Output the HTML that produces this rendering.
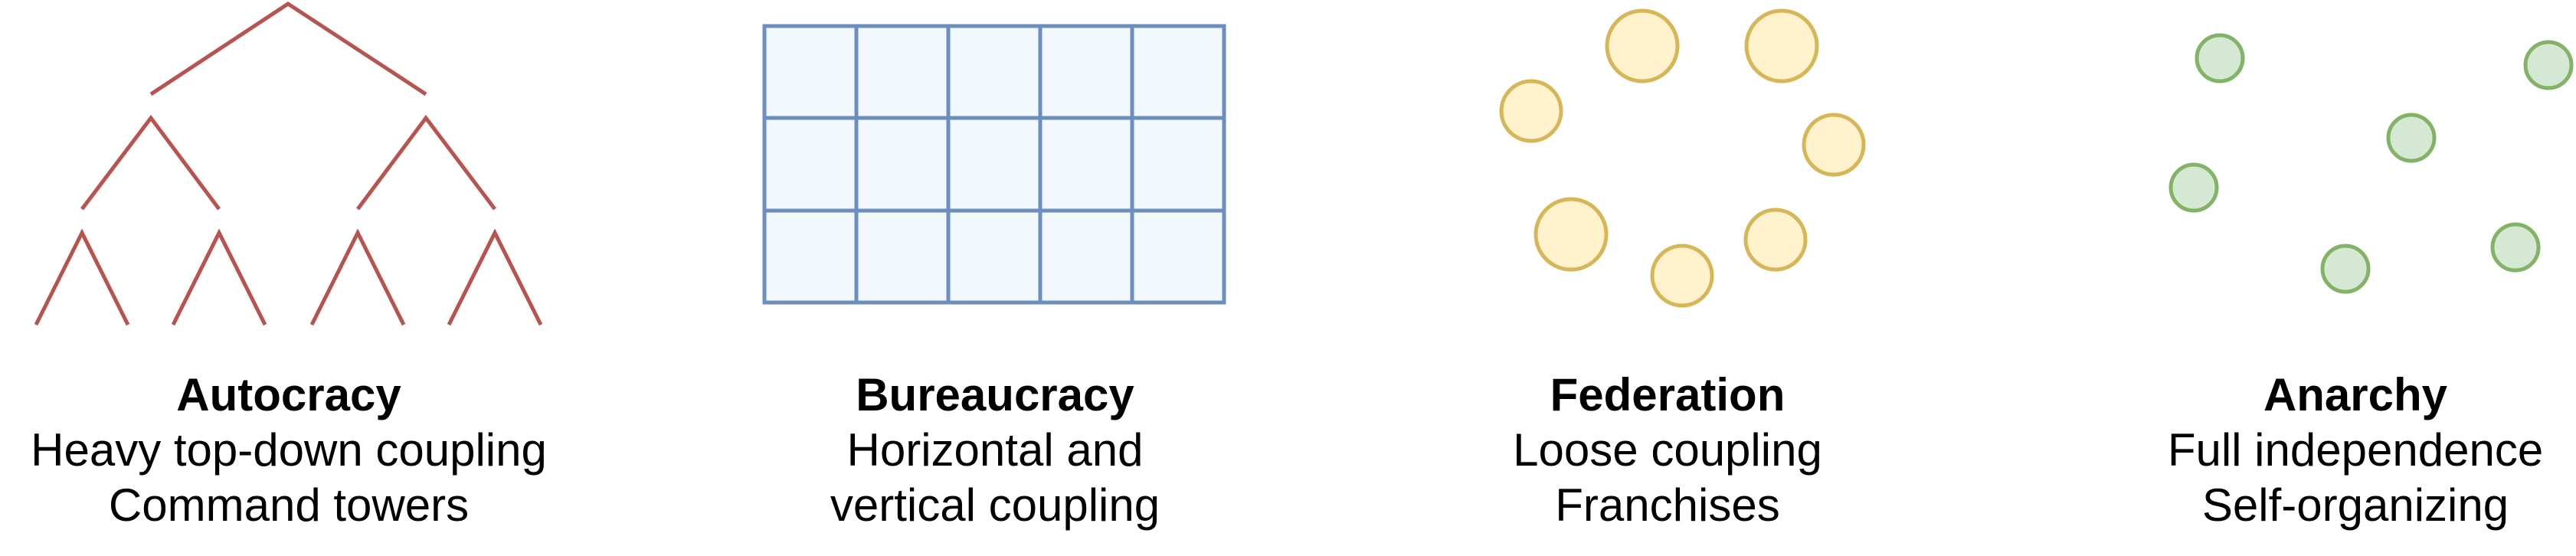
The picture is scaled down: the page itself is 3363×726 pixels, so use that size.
<!DOCTYPE html>
<html><head><meta charset="utf-8"><style>
html,body{margin:0;padding:0;background:#fff;}
svg{display:block;}
text{font-family:"Liberation Sans",Arial,sans-serif;font-size:60px;fill:#000;text-anchor:middle;}
.b{font-weight:bold;}
</style></head><body>
<svg width="3363" height="726" viewBox="0 0 3363 726" xmlns="http://www.w3.org/2000/svg">
<g stroke="#b85450" stroke-width="5" fill="none">
<polyline points="197,123 376,5 556,123"/>
<polyline points="107,273 197,154 286,273"/>
<polyline points="467,273 556,154 646,273"/>
<polyline points="47,424 107,304 167,424"/>
<polyline points="226,424 286,304 346,424"/>
<polyline points="407,424 467,304 527,424"/>
<polyline points="586,424 646,304 706,424"/>
</g>
<g stroke="#6c8ebf" stroke-width="5" fill="#f3f8fe">
<rect x="998" y="34" width="600" height="361"/>
<line x1="1118" y1="34" x2="1118" y2="395"/>
<line x1="1238" y1="34" x2="1238" y2="395"/>
<line x1="1358" y1="34" x2="1358" y2="395"/>
<line x1="1478" y1="34" x2="1478" y2="395"/>
<line x1="998" y1="154" x2="1598" y2="154"/>
<line x1="998" y1="275" x2="1598" y2="275"/>
</g>
<g stroke="#d6b656" stroke-width="5" fill="#fff2cc">
<circle cx="2144" cy="60" r="46"/>
<circle cx="2326" cy="60" r="46"/>
<circle cx="1999" cy="145" r="39"/>
<circle cx="2394" cy="189" r="39"/>
<circle cx="2051" cy="306" r="46"/>
<circle cx="2196" cy="360" r="39"/>
<circle cx="2318" cy="313" r="39"/>
</g>
<g stroke="#82b366" stroke-width="5" fill="#d5e8d4">
<circle cx="2898" cy="76" r="30"/>
<circle cx="3327" cy="85" r="30"/>
<circle cx="3148" cy="180" r="30"/>
<circle cx="2864" cy="245" r="30"/>
<circle cx="3062" cy="351" r="30"/>
<circle cx="3284" cy="323" r="30"/>
</g>
<text class="b" x="377" y="536">Autocracy</text>
<text x="377" y="608">Heavy top-down coupling</text>
<text x="377" y="680">Command towers</text>
<text class="b" x="1299" y="536">Bureaucracy</text>
<text x="1299" y="608">Horizontal and</text>
<text x="1299" y="680">vertical coupling</text>
<text class="b" x="2177" y="536">Federation</text>
<text x="2177" y="608">Loose coupling</text>
<text x="2177" y="680">Franchises</text>
<text class="b" x="3075" y="536">Anarchy</text>
<text x="3075" y="608">Full independence</text>
<text x="3075" y="680">Self-organizing</text>
</svg>
</body></html>
